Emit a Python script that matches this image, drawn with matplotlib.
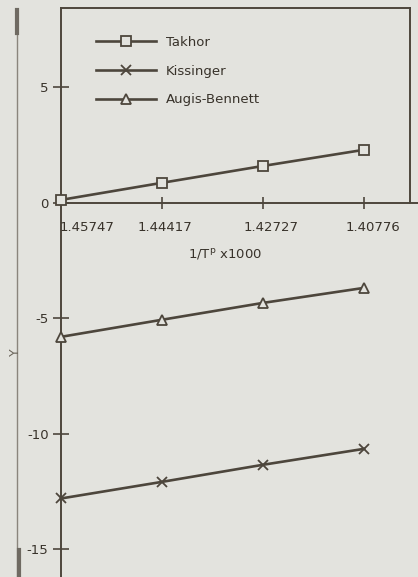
import matplotlib
matplotlib.use("Agg")
import matplotlib.pyplot as plt
from matplotlib.lines import Line2D

# Peak temperature reciprocals (categorical positions on the x axis)
x_labels = ["1.45747", "1.44417", "1.42727", "1.40776"]
x_pos = [0, 1, 2, 3]

# Y values for each evaluation method
takhor = [0.13, 0.87, 1.6, 2.3]
kissinger = [-12.8, -12.08, -11.34, -10.65]
augis_bennett = [-5.8, -5.06, -4.33, -3.68]

y_ticks = [5, 0, -5, -10, -15]

bg = "#e3e3de"
ink = "#4d463c"
txt = "#38322a"

fig = plt.figure(figsize=(4.18, 5.77), dpi=100, facecolor=bg)
W, H = 418, 577
ax = fig.add_axes([61 / W, 0, (410 - 61) / W, 1 - 8 / H], facecolor=bg)

ax.set_xlim(0, 3.455)
ax.set_ylim(-16.2, 8.44)

lw = 1.9
mk = dict(color=ink, lw=lw, markerfacecolor=bg, markeredgecolor=ink, markeredgewidth=1.3)
ax.plot(x_pos, takhor, marker="s", markersize=7, clip_on=False, zorder=3, **mk)
ax.plot(x_pos, kissinger, marker="x", markersize=7, clip_on=False, zorder=3, **mk)
ax.plot(x_pos, augis_bennett, marker="^", markersize=7.5, clip_on=False, zorder=3, **mk)

# Spines: box above the zero line, x axis through y = 0
for s in ax.spines.values():
    s.set_color(ink)
    s.set_linewidth(1.4)
ax.spines["bottom"].set_position(("data", 0))
ax.spines["bottom"].set_bounds(0, 3.53)
ax.spines["right"].set_bounds(0, 8.44)

ax.set_xticks(x_pos[1:])
ax.set_xticklabels([])
ax.tick_params(axis="x", direction="inout", length=9, width=1.2, color=ink)
ax.set_yticks(y_ticks)
ax.set_yticklabels([str(v) for v in y_ticks])
ax.tick_params(axis="y", direction="inout", length=12, width=1.2, color=ink,
               labelsize=9.5, labelcolor=txt, pad=3)
for t in ax.get_yticklabels():
    t.set_fontweight("medium")

# X tick labels placed just below the axis, nudged to the right
label_off = [26, 3, 8, 9]
for xi, lab, off in zip(x_pos, x_labels, label_off):
    ax.annotate(lab, xy=(xi, 0), xycoords="data", xytext=(off * 0.72, -17.5),
                textcoords="offset points", ha="center", va="center",
                fontsize=9.5, color=txt, fontweight="medium",
                annotation_clip=False)

ax.annotate(r"1/T$^{\mathrm{p}}$ x1000", xy=(1.62, 0), xycoords="data",
            xytext=(0, -37.5), textcoords="offset points", ha="center", va="center",
            fontsize=9.5, color=txt)

fig.text(15 / W, 1 - 352 / H, "Y", rotation=90, ha="center", va="center",
         fontsize=9, color="#6a645a")

# Legend
handles = [
    Line2D([], [], marker="s", markersize=7, **mk),
    Line2D([], [], marker="x", markersize=7, **mk),
    Line2D([], [], marker="^", markersize=7.5, **mk),
]
leg = ax.legend(handles, ["Takhor", "Kissinger", "Augis-Bennett"],
                loc="upper left", bbox_to_anchor=(0.065, 0.972), frameon=False,
                handlelength=4.6, handletextpad=0.75, labelspacing=1.2,
                fontsize=9.5)
for t in leg.get_texts():
    t.set_color(txt)

# Page edge line at left of the sheet
fig.add_artist(Line2D([17 / W, 17 / W], [0, 1 - 10 / H], color="#8a857c",
                      lw=1.0, transform=fig.transFigure))
fig.add_artist(Line2D([17 / W, 17 / W], [1 - 10 / H, 1 - 33 / H], color="#6f6a62",
                      lw=3, transform=fig.transFigure))
fig.add_artist(Line2D([19 / W, 19 / W], [0, 1 - 550 / H], color="#6f6a62",
                      lw=3, transform=fig.transFigure))

fig.savefig("out.png", dpi=100, facecolor=bg)
